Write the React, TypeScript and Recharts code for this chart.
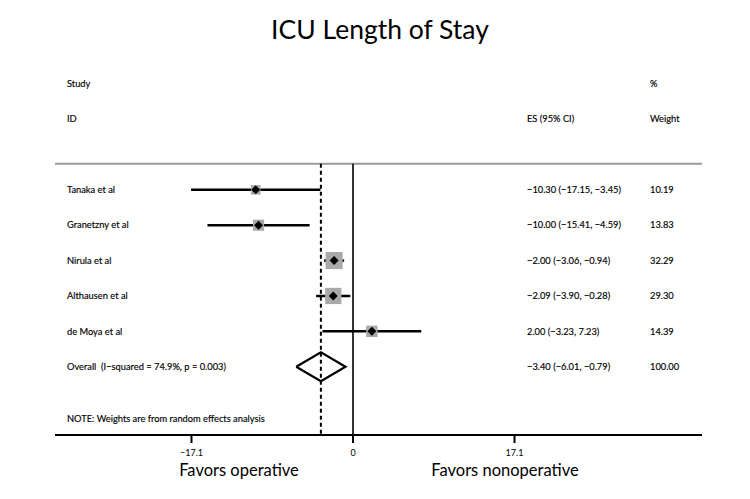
import {
  ScatterChart,
  Scatter,
  XAxis,
  YAxis,
  ReferenceLine,
  Customized,
} from "recharts";

const studies = ["Tanaka et al", "Granetzny et al", "Nirula et al", "Althausen et al", "de Moya et al"];
const effect = [-10.3, -10.0, -2.0, -2.09, 2.0];
const lower = [-17.15, -15.41, -3.06, -3.9, -3.23];
const upper = [-3.45, -4.59, -0.94, -0.28, 7.23];
const weights = [10.19, 13.83, 32.29, 29.3, 14.39];

const overallLabel = "Overall\u00a0 (I\u2212squared = 74.9%, p = 0.003)";
const overallEffect = -3.4;
const overallLower = -6.01;
const overallUpper = -0.79;
const overallWeight = 100.0;

const noteText = "NOTE: Weights are from random effects analysis";
const xTicks = [-17.1, 0, 17.1];

const FONT = "Lato, 'Open Sans', sans-serif";
const fmt = (v: number) => (v < 0 ? "\u2212" : "") + Math.abs(v).toFixed(2);

// row layout: header rows 0/1, studies from 3, overall after them
const firstRow = 3;
const overallRow = firstRow + studies.length;
const noteRow = overallRow + 1.47;
const lineRow = 2.26;
const yDomain: [number, number] = [-0.5, 9.93];

type Row = { y: number; label: string; es?: string; w?: string };
const tableRows: Row[] = [
  { y: 0, label: "Study", w: "%" },
  { y: 1, label: "ID", es: "ES (95% CI)", w: "Weight" },
  ...studies.map((s, i) => ({
    y: firstRow + i,
    label: s,
    es: `${fmt(effect[i])} (${fmt(lower[i])}, ${fmt(upper[i])})`,
    w: weights[i].toFixed(2),
  })),
  {
    y: overallRow,
    label: overallLabel,
    es: `${fmt(overallEffect)} (${fmt(overallLower)}, ${fmt(overallUpper)})`,
    w: overallWeight.toFixed(2),
  },
  { y: noteRow, label: noteText },
];
const textPoints = tableRows.map((r) => ({ ...r, x: 0 }));

const squares = studies.map((s, i) => ({ x: effect[i], y: firstRow + i, w: weights[i], name: s }));
const diamondHalf = 0.41;
const overallDiamond = [
  { x: overallLower, y: overallRow },
  { x: overallEffect, y: overallRow - diamondHalf },
  { x: overallUpper, y: overallRow },
  { x: overallEffect, y: overallRow + diamondHalf },
  { x: overallLower, y: overallRow },
];

// table text: the row's y comes from the chart scale, columns sit at fixed x
const RowText = (props: any) => {
  const { cy, payload } = props;
  const style = { fontFamily: FONT, fontSize: 9.3, fill: "#000", stroke: "#000", strokeWidth: 0.15 };
  return (
    <g>
      <text x={67} y={cy} dy="0.35em" textAnchor="start" {...style}>
        {payload.label}
      </text>
      {payload.es && (
        <text x={527} y={cy} dy="0.35em" textAnchor="start" {...style}>
          {payload.es}
        </text>
      )}
      {payload.w && (
        <text x={650} y={cy} dy="0.35em" textAnchor="start" {...style}>
          {payload.w}
        </text>
      )}
    </g>
  );
};

const XTick = (props: any) => {
  const { x, y, payload } = props;
  const v = payload.value as number;
  const label = v < 0 ? "\u2212" + Math.abs(v) : String(v);
  return (
    <text x={x} y={y} dy="0.71em" textAnchor="middle" fontFamily={FONT} fontSize={9} fill="#000">
      {label}
    </text>
  );
};

const WeightBox = (props: any) => {
  const { cx, cy, payload } = props;
  const side = 3 * Math.sqrt(payload.w);
  return <rect x={cx - side / 2} y={cy - side / 2} width={side} height={side} fill="#a9a9a9" />;
};

const PointMark = (props: any) => {
  const { cx, cy } = props;
  const d = 4.5;
  return <path d={`M${cx - d},${cy} L${cx},${cy - d} L${cx + d},${cy} L${cx},${cy + d} Z`} fill="#000" />;
};

const Labels = () => (
  <g fontFamily={FONT} fill="#000">
    <text x={380} y={39} textAnchor="middle" fontSize={26.5}>
      ICU Length of Stay
    </text>
    <text x={239} y={476} textAnchor="middle" fontSize={16.5}>
      Favors operative
    </text>
    <text x={505} y={476} textAnchor="middle" fontSize={16.5}>
      Favors nonoperative
    </text>
  </g>
);

export default function App() {
  return (
    <div style={{ position: "absolute", left: 0, top: 0, background: "#fff" }}>
      <ScatterChart width={750} height={499} margin={{ top: 66, right: 48, bottom: 34, left: 55 }}>
        <XAxis
          type="number"
          dataKey="x"
          domain={[-31.55, 36.95]}
          allowDataOverflow
          ticks={xTicks}
          tick={<XTick />}
          tickSize={8}
          tickMargin={7}
          height={30}
          stroke="#000"
          strokeWidth={2}
        />
        <YAxis type="number" dataKey="y" domain={yDomain} allowDataOverflow reversed hide />
        <ReferenceLine y={lineRow} stroke="#9a9a9a" strokeWidth={2} />
        <ReferenceLine
          segment={[
            { x: 0, y: lineRow },
            { x: 0, y: yDomain[1] },
          ]}
          stroke="#000"
          strokeWidth={1.6}
        />
        <ReferenceLine
          segment={[
            { x: overallEffect, y: lineRow },
            { x: overallEffect, y: yDomain[1] },
          ]}
          stroke="#000"
          strokeWidth={2}
          strokeDasharray="4 3"
        />
        <Scatter data={squares} shape={<WeightBox />} isAnimationActive={false} />
        {squares.map((s, i) => (
          <ReferenceLine
            key={s.name}
            segment={[
              { x: lower[i], y: s.y },
              { x: upper[i], y: s.y },
            ]}
            stroke="#000"
            strokeWidth={2.5}
          />
        ))}
        <Scatter data={squares} shape={<PointMark />} isAnimationActive={false} />
        <Scatter
          data={overallDiamond}
          line={{ stroke: "#000", strokeWidth: 2.2 }}
          shape={() => <g />}
          isAnimationActive={false}
        />
        <Scatter data={textPoints} shape={<RowText />} isAnimationActive={false} />
        <Customized component={<Labels />} />
      </ScatterChart>
    </div>
  );
}
